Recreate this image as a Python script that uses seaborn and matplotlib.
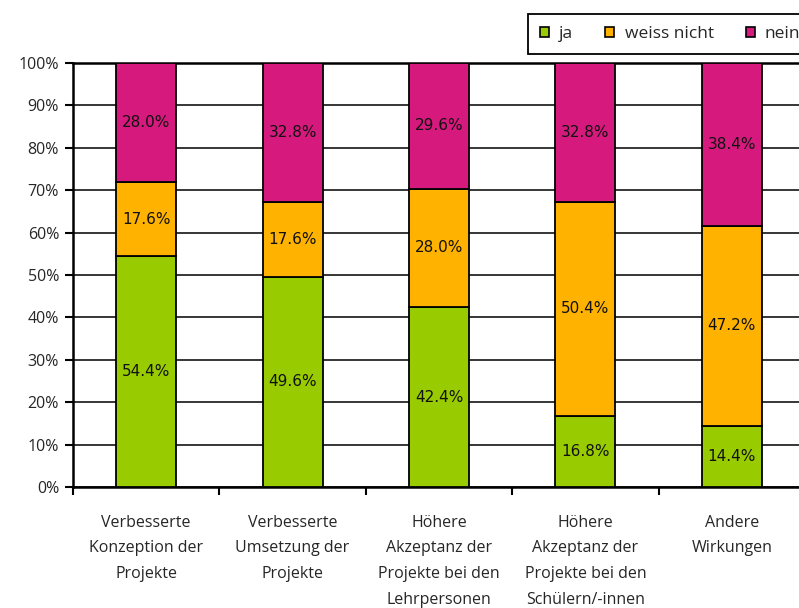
import pandas as pd
import matplotlib
matplotlib.use('Agg')
import matplotlib.pyplot as plt
import seaborn as sns
from matplotlib.patches import Patch
from matplotlib.ticker import FixedLocator

categories = ['Verbesserte\nKonzeption der\nProjekte',
              'Verbesserte\nUmsetzung der\nProjekte',
              'Höhere\nAkzeptanz der\nProjekte bei den\nLehrpersonen',
              'Höhere\nAkzeptanz der\nProjekte bei den\nSchülern/-innen',
              'Andere\nWirkungen']
ja = [54.4, 49.6, 42.4, 16.8, 14.4]
weiss_nicht = [17.6, 17.6, 28.0, 50.4, 47.2]
nein = [28.0, 32.8, 29.6, 32.8, 38.4]
series_names = ['ja', 'weiss nicht', 'nein']
colors = ['#99CC00', '#FFB300', '#D6197D']

sns.set_style('white')
plt.rcParams['font.family'] = ['Open Sans', 'DejaVu Sans']

df = pd.DataFrame({'cat': categories, 'ja': ja, 'weiss nicht': weiss_nicht, 'nein': nein})

fig = plt.figure(figsize=(7.99, 6.08), dpi=100)
# plot area runs past the right edge of the picture, like the reference
ax = fig.add_axes([73/799, (608-487)/608, 732/799, 424/608])

bottom = [0.0] * len(categories)
for name, col in zip(series_names, colors):
    sns.barplot(data=df, x='cat', y=name, color=col, bottom=bottom, width=0.41,
                edgecolor='black', linewidth=1.3, ax=ax, zorder=3, saturation=1)
    for i, v in enumerate(df[name]):
        ax.text(i, bottom[i] + v / 2, f'{v:.1f}%', ha='center', va='center',
                fontsize=11, family='DejaVu Sans', color='#111111', zorder=4)
    bottom = [b + v for b, v in zip(bottom, df[name])]

ax.set_ylim(0, 100)
ax.set_xlim(-0.5, 4.5)
ax.set_yticks(range(0, 101, 10))
ax.set_yticklabels([f'{t}%' for t in range(0, 101, 10)], fontsize=11.5)
ax.grid(axis='y', color='black', linewidth=1.1, zorder=0)
ax.set_axisbelow(True)
ax.set_xlabel('')
ax.set_ylabel('')

ax.set_xticks(range(len(categories)))
ax.set_xticklabels(categories, fontsize=11.5, linespacing=1.8)
ax.tick_params(axis='x', which='major', length=0, pad=20)
ax.xaxis.set_minor_locator(FixedLocator([-0.5, 0.5, 1.5, 2.5, 3.5]))
ax.tick_params(axis='x', which='minor', length=6, width=1.5, direction='out', color='black', bottom=True)
ax.tick_params(axis='y', length=6, width=1.5, direction='out', color='black', left=True, pad=4)

for s in ['left', 'bottom', 'top']:
    ax.spines[s].set_color('black')
    ax.spines[s].set_linewidth(1.8)
ax.spines['right'].set_visible(False)

handles = [Patch(facecolor=c, edgecolor='black', linewidth=1.2) for c in colors]
leg = fig.legend(handles, series_names, loc='upper left', bbox_to_anchor=(528/799, 1 - 14/608),
                 ncol=3, fontsize=12.5, frameon=True, fancybox=False, edgecolor='black',
                 handlelength=0.5, handleheight=0.5, handletextpad=0.6, columnspacing=1.85,
                 borderpad=0.7, borderaxespad=0, framealpha=1)
leg.get_frame().set_linewidth(1.3)

fig.savefig('out.png', dpi=100)
